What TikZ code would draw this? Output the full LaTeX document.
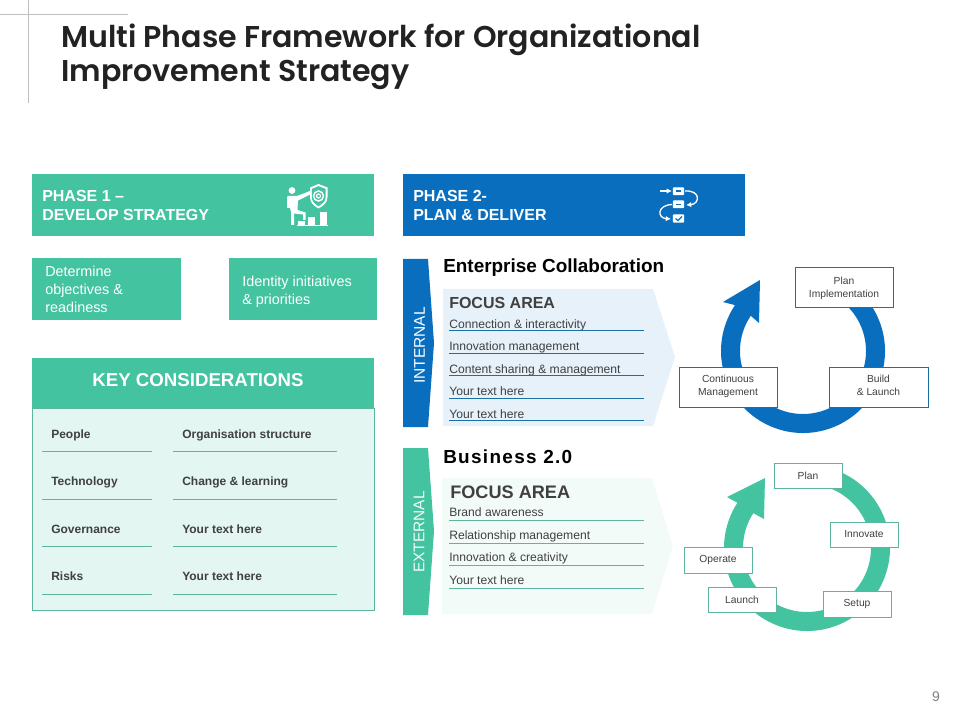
\documentclass[tikz,border=0pt]{standalone}
\usepackage{fontspec}
\setmainfont{Liberation Sans}
\newfontfamily\titlefont{Poppins}[UprightFont=* SemiBold]
\usetikzlibrary{arrows.meta,calc}
\definecolor{ink}{HTML}{222222}
\definecolor{bodytext}{HTML}{404040}
\definecolor{hair}{HTML}{BFBFBF}
\definecolor{teal}{HTML}{43C3A0}
\definecolor{tealline}{HTML}{5DB5A0}
\definecolor{tealpale}{HTML}{E3F6F1}
\definecolor{tealfaint}{HTML}{F3FBF9}
\definecolor{blue}{HTML}{0A6EBF}
\definecolor{blueline}{HTML}{1C6EA4}
\definecolor{bluepale}{HTML}{E6F1F9}
\tikzset{
  banner/.style={anchor=west, align=left, text=white, font=\fontsize{12}{14.2}\selectfont\bfseries},
  lighttext/.style={anchor=west, align=left, text=white, font=\fontsize{10.8}{13.3}\selectfont},
  rowtext/.style={anchor=west, text=bodytext, text height=7pt, text depth=2pt, inner sep=0pt, font=\fontsize{9.1}{10}\selectfont},
  keytext/.style={anchor=west, text=bodytext, text height=6.5pt, text depth=2pt, inner sep=0pt, font=\fontsize{9}{10}\selectfont\bfseries},
  stagebox/.style={draw=#1, fill=white, line width=0.75pt, align=center, text=bodytext, font=\fontsize{7.7}{9.8}\selectfont, inner sep=0pt},
}
% corner to corner box: x1 y1 x2 y2 name style text
\newcommand{\cornerbox}[7]{%
  \node[#6, minimum width={(#3-#1)*0.75pt}, minimum height={(#4-#2)*0.75pt}] (#5) at ({(#1+#3)/2},{(#2+#4)/2}) {#7};}
% band with arrow head: centre, R, r, from, to, c1, tip, c2, colour
\newcommand{\ringband}[9]{%
  \fill[#9] ([shift={(#4:#2)}]#1) arc[start angle=#4, end angle=#5, radius=#2]
    -- #6 -- #7 -- #8
    -- ([shift={(#5:#3)}]#1) arc[start angle=#5, end angle=#4, radius=#3] -- cycle;}
\newcommand{\lifted}{\rule[-3pt]{0pt}{1pt}}
\begin{document}
\begin{tikzpicture}[x=0.75pt,y=-0.75pt]
\useasboundingbox (0,0) rectangle (960,720);

% ---------- corner rules and title
\draw[hair, line width=0.6pt] (28,0) -- (28,103);
\draw[hair, line width=0.6pt] (0,14) -- (128,14);
\node[anchor=west, align=left, text=ink, inner sep=0pt, font=\titlefont\fontsize{22.55}{25.5}\selectfont] (title) at (61,57)
  {Multi Phase Framework for Organizational\\Improvement Strategy};
\node[text=gray, inner sep=0pt, font=\fontsize{10.5}{12}\selectfont] (pagenum) at (936,697) {9};

% ---------- phase 1
\fill[teal] (32,174) rectangle (374,236);
\node[banner, inner sep=0pt] (phaseone) at (42,205.5) {PHASE 1 --\\DEVELOP STRATEGY};
\cornerbox{32}{258}{181}{320}{goalbox}{fill=teal}{}
\node[lighttext, inner sep=0pt] (goaltext) at (45,289.5) {Determine\\objectives \&\\readiness};
\cornerbox{229}{258}{377}{320}{initbox}{fill=teal}{}
\node[lighttext, inner sep=0pt] (inittext) at (242,291.5) {Identity initiatives\\\& priorities};

% icon: person, shield, bars
\fill[white] (292,190.5) circle (3.4);
\fill[white] (288,196) -- (297,196) -- (310,191) -- (311,194) -- (298,200.5) -- (297.5,210) -- (305.5,212.5) -- (305.5,220) -- (303,220) -- (303,214.5) -- (294,213.5) -- (294,225) -- (291,225) -- (291,212) -- (290,208) -- (287,208) -- (287,197) -- cycle;
\fill[white] (318.5,184) -- (327.5,187.5) -- (327.5,197) .. controls (327.5,203) and (323,206) .. (318.5,208.5) .. controls (314,206) and (310,203) .. (310,197) -- (310,187.5) -- cycle;
\fill[teal] (318.5,186.2) -- (325.7,189) -- (325.7,197) .. controls (325.7,201.5) and (322,204) .. (318.5,206.2) .. controls (315,204) and (311.8,201.5) .. (311.8,197) -- (311.8,189) -- cycle;
\draw[white, line width=1.1pt] (318.5,196) circle (5);
\draw[white, line width=0.9pt] (318.5,196) circle (2);
\fill[white] (297,225) rectangle (327.5,226.5);
\fill[white] (298,221.5) rectangle (305,225);
\fill[white] (308,217) rectangle (315,225);
\fill[white] (320,212) rectangle (327,225);

% ---------- key considerations
\fill[tealpale] (32,408) rectangle (374,610);
\draw[tealline, line width=0.75pt] (32,408) rectangle (374,610);
\fill[teal] (32,358) rectangle (374,408);
\node[text=white, inner sep=0pt, font=\fontsize{14}{16}\selectfont\bfseries] (keyhead) at (198,380) {KEY CONSIDERATIONS};
\foreach \i/\ty/\ly/\lefttext/\righttext in {1/435/451/People/Organisation structure,
                                             2/482/499/Technology/Change \& learning,
                                             3/530/546/Governance/Your text here,
                                             4/577/594/Risks/Your text here} {
  \node[keytext] (keyleft\i) at (51,\ty) {\lefttext};
  \node[keytext] (keyright\i) at (182,\ty) {\righttext};
  \draw[tealline, line width=0.6pt] (42,\ly) -- (152,\ly);
  \draw[tealline, line width=0.6pt] (173,\ly) -- (337,\ly);
}

% ---------- phase 2
\fill[blue] (403,174) rectangle (745,236);
\node[banner, inner sep=0pt] (phasetwo) at (413,205.5) {PHASE 2-\\PLAN \& DELIVER};

% icon: checklist flow
\draw[white, line width=1pt, -{Latex[length=4pt,width=4pt]}] (660,191) -- (672,191);
\draw[white, line width=1pt, rounded corners=0.5pt, fill=white] (673.5,188) rectangle (683.5,194.5);
\draw[white, line width=1pt, rounded corners=0.5pt, fill=white] (673.5,201) rectangle (683.5,207.5);
\draw[white, line width=1pt, rounded corners=0.5pt, fill=white] (673.5,215) rectangle (683.5,222);
\draw[blue, line width=0.8pt] (676,191) -- (681,191) (676,204.5) -- (681,204.5);
\draw[blue, line width=0.9pt] (675.5,218.5) -- (678,220.5) -- (682,216.5);
\draw[white, line width=1pt, -{Latex[length=4pt,width=4pt]}] (685,191) .. controls (701,190) and (700,204) .. (686,205);
\draw[white, line width=1pt, -{Latex[length=4pt,width=4pt]}] (672,204.5) .. controls (657,205) and (657,218) .. (671,219);

% ---------- internal lane
\fill[blue] (403,259) -- (428,259) -- (434,343) -- (428,427) -- (403,427) -- cycle;
\node[rotate=90, text=white, inner sep=0pt, font=\fontsize{11.6}{14}\selectfont] (internal) at (419.5,345.5) {INTERNAL};
\node[anchor=west, text=black, inner sep=0pt, font=\fontsize{14.2}{16}\selectfont\bfseries] (enterprise) at (443,268) {Enterprise Collaboration};
\fill[bluepale] (443,289) -- (653,289) -- (675,357) -- (653,426) -- (443,426) -- cycle;
\node[anchor=west, text=bodytext, inner sep=0pt, font=\fontsize{12}{14}\selectfont\bfseries] (focusone) at (449,303) {FOCUS AREA};
\foreach \i/\ty/\ly/\rowlabel in {1/325/330/Connection \& interactivity,
                                  2/347/353/Innovation management,
                                  3/370/375/Content sharing \& management,
                                  4/392/398/Your text here,
                                  5/415/420/Your text here} {
  \node[rowtext] (introw\i) at (449,\ty) {\rowlabel};
  \draw[blueline, line width=0.75pt] (449,\ly) -- (644,\ly);
}

% ---------- blue ring
\coordinate (bluecentre) at (803,351);
\ringband{bluecentre}{82}{63}{-70}{214}{(723,302)}{(760,280)}{(759,323)}{blue}
\cornerbox{795}{268}{893}{308}{planimpl}{stagebox=blueline}{Plan\\Implementation}
\cornerbox{829}{367}{928}{407}{buildlaunch}{stagebox=blueline}{Build\\\& Launch\lifted}
\cornerbox{679}{367}{777}{407}{contmgmt}{stagebox=blueline}{Continuous\\Management\lifted}

% ---------- external lane
\fill[teal] (403,448) -- (428,448) -- (434,531) -- (428,615) -- (403,615) -- cycle;
\node[rotate=90, text=tealfaint, inner sep=0pt, font=\fontsize{11.6}{14}\selectfont] (external) at (419,532) {EXTERNAL};
\node[anchor=west, text=black, inner sep=0pt, font=\fontsize{14.2}{16}\selectfont\bfseries\addfontfeature{LetterSpace=7}] (business) at (443,457) {Business 2.0};
\fill[tealfaint] (442,478) -- (652,478) -- (673,546) -- (652,614) -- (442,614) -- cycle;
\node[anchor=west, text=bodytext, inner sep=0pt, font=\fontsize{13.6}{16}\selectfont\bfseries] (focustwo) at (450,492) {FOCUS AREA};
\foreach \i/\ty/\ly/\rowlabel in {1/513/520/Brand awareness,
                                  2/536/543/Relationship management,
                                  3/558/565/Innovation \& creativity,
                                  4/581/588/Your text here} {
  \node[rowtext] (extrow\i) at (449,\ty) {\rowlabel};
  \draw[tealline, line width=0.75pt] (449,\ly) -- (644,\ly);
}

% ---------- green ring
\coordinate (greencentre) at (807,548);
\ringband{greencentre}{83}{64}{-70}{213}{(727,497)}{(765,478)}{(764,519)}{teal}
\cornerbox{774}{463}{842}{488}{planbox}{stagebox=tealline}{Plan}
\cornerbox{830}{522}{898}{547}{innovatebox}{stagebox=tealline}{Innovate}
\cornerbox{823}{591}{891}{617}{setupbox}{stagebox=tealline}{Setup}
\cornerbox{708}{587}{776}{612}{launchbox}{stagebox=tealline}{Launch}
\cornerbox{684}{547}{752}{573}{operatebox}{stagebox=tealline}{Operate}

\end{tikzpicture}
\end{document}
